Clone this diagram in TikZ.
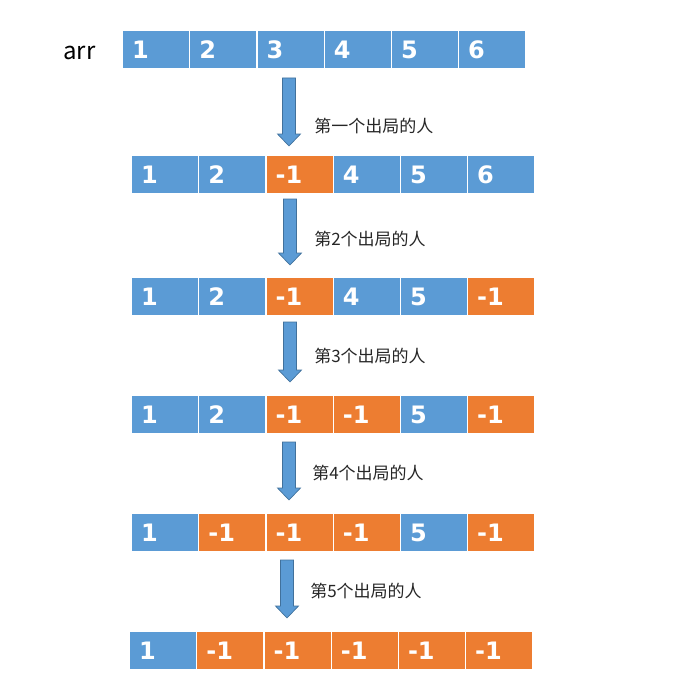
\documentclass[tikz,border=0pt]{standalone}
\usepackage{fontspec}
\setmainfont{Liberation Sans}
\newfontfamily\cjk{Noto Sans CJK SC}
\newfontfamily\digitfont{DejaVu Sans}
\usetikzlibrary{positioning}
\definecolor{cblue}{HTML}{5B9BD5}
\definecolor{corange}{HTML}{ED7D31}
\definecolor{aborder}{HTML}{41719C}
\tikzset{
  cellbox/.style={rectangle, draw=white, line width=0.9pt, minimum width=50.4pt, minimum height=29.25pt,
    text width=36pt, inner xsep=6.6pt, inner ysep=0pt, align=left, text=white,
    font=\digitfont\fontsize{18pt}{19pt}\selectfont\bfseries, anchor=west},
  bcell/.style={cellbox, fill=cblue},
  ocell/.style={cellbox, fill=corange},
  steplabel/.style={anchor=west, inner sep=0pt, font=\cjk\fontsize{12.75pt}{14pt}\selectfont, text=black!85},
  blockarrow/.style={fill=cblue, draw=aborder, line width=0.5pt},
}
\newcommand{\arrowrow}[5]{% name, x0, yc, list of (style/text)
  \foreach \st/\tx [count=\i from 0] in {#4} {
    \node[\st] (#1c\i) at ({#2+67.2*\i},-#3) {\raisebox{-1pt}{#5\tx}};
  }
}
\newcommand{\darrow}[3]{% x, top, tip
  \draw[blockarrow] (#1-6.5,-#2) -- (#1+6.5,-#2) -- (#1+6.5,-#3+12) -- (#1+11.5,-#3+12) -- (#1,-#3)
    -- (#1-11.5,-#3+12) -- (#1-6.5,-#3+12) -- cycle;
}
\begin{document}
\begin{tikzpicture}[x=0.75pt,y=0.75pt]
\useasboundingbox (0,0) rectangle (685,-699);
\node[anchor=west, inner sep=0pt, font=\cjk\fontsize{18pt}{20pt}\selectfont] (arr) at (63,-53) {arr};
\arrowrow{r0}{122}{49.5}{bcell/1,bcell/2,bcell/3,bcell/4,bcell/5,bcell/6}{}
\arrowrow{r1}{131}{174.5}{bcell/1,bcell/2,ocell/-1,bcell/4,bcell/5,bcell/6}{}
\arrowrow{r2}{131}{296.5}{bcell/1,bcell/2,ocell/-1,bcell/4,bcell/5,ocell/-1}{}
\arrowrow{r3}{131}{414.5}{bcell/1,bcell/2,ocell/-1,ocell/-1,bcell/5,ocell/-1}{}
\arrowrow{r4}{131}{532.5}{bcell/1,ocell/-1,ocell/-1,ocell/-1,bcell/5,ocell/-1}{}
\arrowrow{r5}{129}{650.5}{bcell/1,ocell/-1,ocell/-1,ocell/-1,ocell/-1,ocell/-1}{}
\darrow{289}{78}{146}
\darrow{290}{199}{265}
\darrow{290}{322}{382}
\darrow{289}{442}{500}
\darrow{287}{560}{618}
\node[steplabel] (l1) at (314,-126) {第一个出局的人};
\node[steplabel] (l2) at (314,-239) {第2个出局的人};
\node[steplabel] (l3) at (314,-356) {第3个出局的人};
\node[steplabel] (l4) at (312,-473) {第4个出局的人};
\node[steplabel] (l5) at (310,-591) {第5个出局的人};
\end{tikzpicture}
\end{document}
